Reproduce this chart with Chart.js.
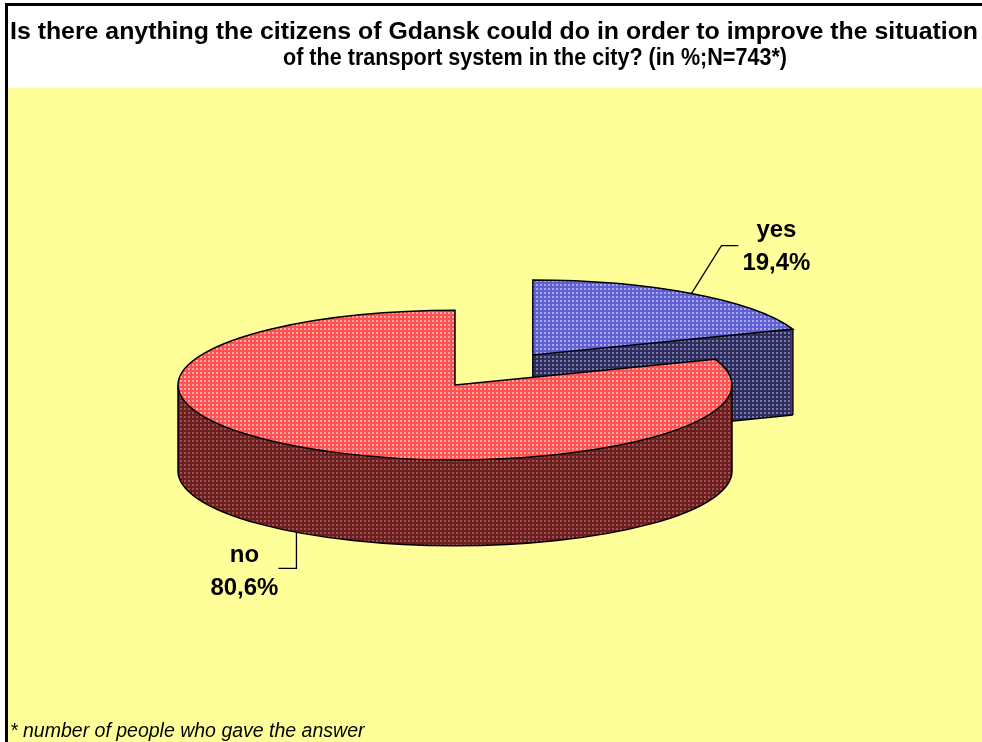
<!DOCTYPE html>
<html>
<head>
<meta charset="utf-8">
<script src="https://cdn.jsdelivr.net/npm/chart.js@4.4.0/dist/chart.umd.min.js"></script>
<style>
  html, body { margin: 0; padding: 0; background: #fff; }
  #wrap { position: relative; width: 982px; height: 742px; }
</style>
</head>
<body>
<div id="wrap"><canvas id="pieChart" width="982" height="742"></canvas></div>
<script>
// chart data
const answers = ['yes', 'no'];
const shares = [19.4, 80.6];
const titleLines = [
    'Is there anything the citizens of Gdansk could do in order to improve the situation',
    'of the transport system in the city? (in %;N=743*)'
];
const footnote = '* number of people who gave the answer';

// 3D look
const TILT = 0.27;      // vertical squash of the pie
const DEPTH = 86;       // height of the side wall
const RADIUS = 277;
const EXPLODE = [136, 0];
const FONT = '"Liberation Sans", Arial, sans-serif';

function makePattern(base, light) {
    const c = document.createElement('canvas');
    c.width = 4; c.height = 4;
    const g = c.getContext('2d');
    g.fillStyle = base;
    g.fillRect(0, 0, 4, 4);
    g.fillStyle = light;
    g.fillRect(0, 0, 2, 2);
    return g.createPattern(c, 'repeat');
}

const topPatterns = [makePattern('#6060d0', '#a8a8ff'), makePattern('#ff5050', '#ffaaaa')];
const sidePatterns = [makePattern('#2e2e5e', '#7a7aa8'), makePattern('#6a1e1e', '#a05050')];

function paintArc(ctx, arc, dx, dy) {
    ctx.save();
    ctx.translate(dx, arc.y + dy);
    ctx.scale(1, TILT);
    ctx.translate(0, -arc.y);
    const bg = arc.options.backgroundColor;
    if (bg && bg.setTransform) bg.setTransform(ctx.getTransform().inverse());
    arc.draw(ctx);
    ctx.restore();
}

function rimPoint(cx, cy, r, a) {
    return { x: cx + Math.cos(a) * r, y: cy + Math.sin(a) * r * TILT };
}

function strokeWalls(ctx, arc, cx, cy) {
    const r = arc.outerRadius;
    ctx.save();
    ctx.strokeStyle = '#000';
    ctx.lineWidth = 1.5;
    // bottom rim on the front half
    const a1 = Math.max(arc.startAngle, 0);
    const a2 = Math.min(arc.endAngle, Math.PI);
    if (a2 > a1) {
        ctx.beginPath();
        ctx.ellipse(cx, cy + DEPTH, r, r * TILT, 0, a1, a2);
        ctx.stroke();
    }
    const verticals = [];
    [0, Math.PI].forEach(a => {
        if (a >= arc.startAngle && a <= arc.endAngle) verticals.push(rimPoint(cx, cy, r, a));
    });
    // radial faces that turn towards the viewer
    [[arc.endAngle, 1], [arc.startAngle, -1]].forEach(([a, s]) => {
        if (s * Math.cos(a) > 0.01) {
            const p = rimPoint(cx, cy, r, a);
            verticals.push(p, { x: cx, y: cy });
            ctx.beginPath();
            ctx.moveTo(cx, cy + DEPTH);
            ctx.lineTo(p.x, p.y + DEPTH);
            ctx.stroke();
        }
    });
    verticals.forEach(p => {
        ctx.beginPath();
        ctx.moveTo(p.x, p.y);
        ctx.lineTo(p.x, p.y + DEPTH);
        ctx.stroke();
    });
    ctx.restore();
}

function strokeTop(ctx, arc, cx, cy) {
    const r = arc.outerRadius;
    ctx.save();
    ctx.strokeStyle = '#000';
    ctx.lineWidth = 1.5;
    ctx.beginPath();
    ctx.moveTo(cx, cy);
    ctx.ellipse(cx, cy, r, r * TILT, 0, arc.startAngle, arc.endAngle);
    ctx.closePath();
    ctx.stroke();
    ctx.restore();
}

// draw a line of text stretched to span [x0, x1]
function fitText(ctx, text, x0, x1, y) {
    const w = ctx.measureText(text).width;
    ctx.save();
    ctx.translate(x0, y);
    ctx.scale((x1 - x0) / w, 1);
    ctx.textAlign = 'left';
    ctx.fillText(text, 0, 0);
    ctx.restore();
}

const backdrop = {
    id: 'backdrop',
    beforeDraw(chart) {
        const ctx = chart.ctx;
        ctx.save();
        ctx.fillStyle = '#ffffff';
        ctx.fillRect(0, 0, 982, 742);
        ctx.fillStyle = '#ffff99';
        ctx.fillRect(8, 88, 974, 654);
        ctx.fillStyle = '#000';
        ctx.fillRect(5, 3, 977, 3);
        ctx.fillRect(5, 3, 3, 739);

        ctx.font = 'bold 23px ' + FONT;
        ctx.textBaseline = 'alphabetic';
        fitText(ctx, titleLines[0], 10, 978, 39);
        fitText(ctx, titleLines[1], 283, 787, 65);

        ctx.font = 'italic 19.5px ' + FONT;
        ctx.textAlign = 'left';
        ctx.fillText(footnote, 10, 737);
        ctx.restore();
    }
};

const pie3d = {
    id: 'pie3d',
    beforeDatasetsDraw(chart) {
        const ctx = chart.ctx;
        const arcs = chart.getDatasetMeta(0).data;
        arcs.forEach((arc, i) => {
            const mid = (arc.startAngle + arc.endAngle) / 2;
            const dx = Math.cos(mid) * EXPLODE[i];
            const dy = Math.sin(mid) * EXPLODE[i] * TILT;
            const cx = arc.x + dx, cy = arc.y + dy;
            const topOpts = arc.options;
            arc.options = Object.assign({}, topOpts, { backgroundColor: sidePatterns[i] });
            for (let d = DEPTH; d >= 1; d--) paintArc(ctx, arc, dx, dy + d);
            arc.options = topOpts;
            strokeWalls(ctx, arc, cx, cy);
            paintArc(ctx, arc, dx, dy);
            strokeTop(ctx, arc, cx, cy);
        });
        return false;
    }
};

// labels with leader lines
const labelLayout = [
    { rim: 'top', bend: [30, -48], end: [47, -48], text: [85, -57] },
    { rim: 'bottom', bend: [0, 36], end: [-18, 36], text: [-52, 30] }
];

const sliceLabels = {
    id: 'sliceLabels',
    afterDraw(chart) {
        const ctx = chart.ctx;
        const arcs = chart.getDatasetMeta(0).data;
        ctx.save();
        arcs.forEach((arc, i) => {
            const mid = (arc.startAngle + arc.endAngle) / 2;
            const dx = Math.cos(mid) * EXPLODE[i];
            const dy = Math.sin(mid) * EXPLODE[i] * TILT;
            const L = labelLayout[i];
            const p = rimPoint(arc.x + dx, arc.y + dy, arc.outerRadius, mid);
            if (L.rim === 'bottom') p.y += DEPTH;
            ctx.strokeStyle = '#000';
            ctx.lineWidth = 1.3;
            ctx.beginPath();
            ctx.moveTo(p.x, p.y);
            ctx.lineTo(p.x + L.bend[0], p.y + L.bend[1]);
            ctx.lineTo(p.x + L.end[0], p.y + L.end[1]);
            ctx.stroke();
            ctx.fillStyle = '#000';
            ctx.font = 'bold 24px ' + FONT;
            ctx.textAlign = 'center';
            const tx = p.x + L.text[0], ty = p.y + L.text[1];
            ctx.fillText(chart.data.labels[i], tx, ty);
            ctx.fillText(shares[i].toFixed(1).replace('.', ',') + '%', tx, ty + 33);
        });
        ctx.restore();
    }
};

new Chart(document.getElementById('pieChart'), {
    type: 'pie',
    data: {
        labels: answers,
        datasets: [{
            data: shares,
            backgroundColor: topPatterns,
            borderWidth: 0
        }]
    },
    options: {
        responsive: false,
        animation: false,
        events: [],
        radius: RADIUS,
        layout: { padding: { left: 0, right: 72, top: 28, bottom: 0 } },
        plugins: {
            legend: { display: false },
            title: { display: false },
            tooltip: { enabled: false }
        }
    },
    plugins: [backdrop, pie3d, sliceLabels]
});
</script>
</body>
</html>
